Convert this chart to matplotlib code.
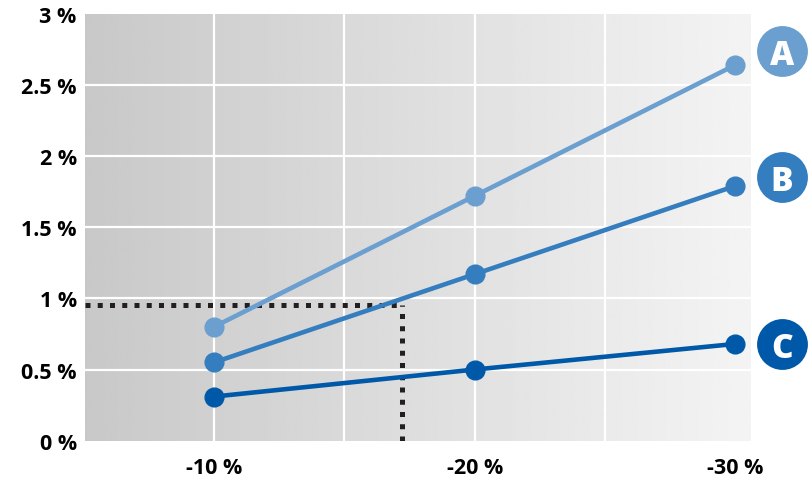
import numpy as np
import matplotlib
matplotlib.use('Agg')
import matplotlib.pyplot as plt

plt.rcParams['font.family'] = ['Open Sans', 'DejaVu Sans']

# data
x_vals = [-10, -20, -30]
series_names = ['A', 'B', 'C']
series_a = [0.80, 1.72, 2.64]
series_b = [0.55, 1.17, 1.79]
series_c = [0.31, 0.50, 0.68]
colors = ['#6a9fcf', '#347dbe', '#0059a8']
y_ticks = [0, 0.5, 1, 1.5, 2, 2.5, 3]
ref_x = -17.2   # dotted guide
ref_y = 0.95

# label layout (badge centres, in data units)
badge_x = -31.78
badge_y = [2.74, 1.85, 0.68]

W, H = 809, 485
fig = plt.figure(figsize=(W/100, H/100), dpi=100)
ax = fig.add_axes([85/W, (H-441.7)/H, (751-85)/W, (441.7-14.7)/H])

xmin, xmax = -5.05, -30.6
ax.set_xlim(xmin, xmax)
ax.set_ylim(0, 3)

# gradient background dark -> light
grad = np.linspace(0.785, 0.955, 256).reshape(1, -1)
ax.imshow(grad, cmap='gray', vmin=0, vmax=1, aspect='auto',
          extent=[xmin, xmax, 0, 3], zorder=0, interpolation='bilinear')

for gx in [-10, -15, -20, -25]:
    ax.axvline(gx, color='white', lw=1.6, zorder=1)
for gy in [0.5, 1, 1.5, 2, 2.5]:
    ax.axhline(gy, color='white', lw=1.6, zorder=1)

# dotted guide: horizontal from the left edge, vertical from the bottom edge
dot = dict(color='#231f20', lw=3.6, dashes=(1.0, 1.45), dash_capstyle='butt', zorder=2)
ax.plot([xmin, ref_x], [ref_y, ref_y], **dot)
ax.plot([ref_x, ref_x], [0, ref_y], **dot)

for vals, c in zip([series_a, series_b, series_c], colors):
    ax.plot(x_vals, vals, color=c, lw=3.3, marker='o', markersize=13.5,
            zorder=3, clip_on=False)

for name, by, c in zip(series_names, badge_y, colors):
    ax.scatter([badge_x], [by], s=1340, color=c, zorder=4, clip_on=False,
               linewidths=0)
    ax.text(badge_x, by, name, color='white', fontsize=24, fontweight='heavy',
            ha='center', va='center_baseline', zorder=5, clip_on=False)

ax.set_xticks(x_vals)
ax.set_xticklabels(['{:d} %'.format(v) for v in x_vals])
ax.set_yticks(y_ticks)
ax.set_yticklabels(['{:g} %'.format(v) for v in y_ticks])
ax.tick_params(length=0, labelsize=15.5)
ax.tick_params(axis='x', pad=12)
ax.tick_params(axis='y', pad=6)
for lab in ax.get_xticklabels() + ax.get_yticklabels():
    lab.set_fontweight('bold')
for s in ax.spines.values():
    s.set_visible(False)

fig.savefig('out.png', dpi=100)
